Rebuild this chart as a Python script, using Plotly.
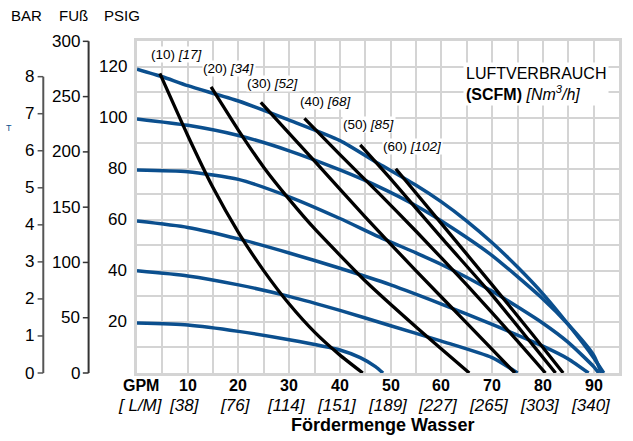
import plotly.graph_objects as go

# ---------------- data ----------------
# Pressure curves (blue): inlet air pressure in PSIG, flow in GPM, head in PSIG
p120_gpm = [0, 5, 10, 20, 30, 40, 47.6, 55, 60, 65, 70, 75, 80, 85, 90, 92]
p120_psi = [119, 116, 112.5, 106.5, 99, 91, 82, 73.5, 67, 59.5, 51, 41.5, 31, 19, 6, 0]
p100_gpm = [0, 10, 20, 30, 40, 47.6, 55, 62, 70, 80, 85, 90, 91.5]
p100_psi = [99.5, 97, 93, 87, 79.5, 73, 65.5, 57, 46, 29, 19, 7, 0]
p80_gpm = [0, 10, 20, 30, 40, 47.6, 55, 60, 70, 80, 85, 90, 91]
p80_psi = [79.5, 78.8, 75.8, 69, 60.5, 53.4, 47, 42.5, 32, 19.5, 12, 2.5, 0]
p60_gpm = [0, 10, 20, 30, 40, 50, 60, 70, 80, 85, 89]
p60_psi = [59.5, 57, 52.5, 47, 41, 34.5, 27, 19, 10.5, 5.5, 0]
p40_gpm = [0, 10, 20, 30, 40, 50, 60, 70, 75]
p40_psi = [40, 38, 34.5, 30, 24.5, 18.5, 12.5, 6, 0]
p20_gpm = [0, 10, 20, 30, 40, 44, 47, 48.5]
p20_psi = [19.6, 18.8, 16.3, 13, 9, 6, 2.5, 0]

# Air consumption curves (black): SCFM
a10_gpm = [4.5, 10, 15, 20, 25, 30, 35, 40, 44.5]
a10_psi = [117.3, 93, 72.5, 55, 40, 27, 16, 7, 0]
a20_gpm = [14.6, 20, 25, 30, 35, 45, 55, 65.5]
a20_psi = [112, 95, 80.5, 68, 56.5, 36, 18, 0]
a30_gpm = [24.4, 35, 45, 55, 65, 74.5]
a30_psi = [106, 83, 61, 40, 19.5, 0]
a40_gpm = [33, 40, 47.6, 55, 65, 75, 80.5]
a40_psi = [99.7, 85.5, 70.5, 55.5, 34.5, 12.5, 0]
a50_gpm = [44, 50, 60, 70, 78, 82.5]
a50_psi = [89.3, 76, 53, 30.5, 11, 0]
a60_gpm = [51, 60, 70, 78, 84]
a60_psi = [80, 58.5, 34.5, 15, 0]

air_labels_scfm = ["(10)", "(20)", "(30)", "(40)", "(50)", "(60)"]
air_labels_nm3h = ["[17]", "[34]", "[52]", "[68]", "[85]", "[102]"]

gpm_ticks = [10, 20, 30, 40, 50, 60, 70, 80, 90]
lpm_ticks = ["[38]", "[76]", "[114]", "[151]", "[189]", "[227]", "[265]", "[303]", "[340]"]
psig_ticks = [20, 40, 60, 80, 100, 120]
bar_ticks = [0, 1, 2, 3, 4, 5, 6, 7, 8]
ft_ticks = [0, 50, 100, 150, 200, 250, 300]

# ---------------- geometry helpers ----------------
W, H = 633, 441
L, R, T, B = 137, 622, 41, 373
YMAX = 130.0
XMAX = 95.0


def xp(px):
    return (px - L) / (R - L)


def yp(py):
    return (B - py) / (B - T)


BLUE = "#0b4f8e"
FONT = "Liberation Sans, Arial, sans-serif"

fig = go.Figure()

blue_sets = [(p120_gpm, p120_psi), (p100_gpm, p100_psi), (p80_gpm, p80_psi),
             (p60_gpm, p60_psi), (p40_gpm, p40_psi), (p20_gpm, p20_psi)]
for gx, gy in blue_sets:
    fig.add_trace(go.Scatter(x=gx, y=gy, mode="lines",
                             line=dict(color=BLUE, width=3.5, shape="spline", smoothing=0.6),
                             hoverinfo="skip", showlegend=False))

black_sets = [(a10_gpm, a10_psi), (a20_gpm, a20_psi), (a30_gpm, a30_psi),
              (a40_gpm, a40_psi), (a50_gpm, a50_psi), (a60_gpm, a60_psi)]
for gx, gy in black_sets:
    fig.add_trace(go.Scatter(x=gx, y=gy, mode="lines",
                             line=dict(color="black", width=3.3, shape="spline", smoothing=0.5),
                             hoverinfo="skip", showlegend=False))

annotations = []
shapes = []

# air consumption labels at the start of each black line
label_px = [(177, 55), (230, 68), (274, 83), (327, 101), (370, 124), (414, 146)]
for (lx, ly), s, n in zip(label_px, air_labels_scfm, air_labels_nm3h):
    annotations.append(dict(x=xp(lx), y=yp(ly), xref="paper", yref="paper",
                            text=f"{s} <i>{n}</i>", showarrow=False,
                            font=dict(family=FONT, size=13.5, color="black"),
                            bgcolor="white", borderpad=0,
                            xanchor="center", yanchor="middle"))

# legend box
annotations.append(dict(x=xp(465), y=yp(84), xref="paper", yref="paper",
                        text="LUFTVERBRAUCH<br><b>(SCFM)</b> <i>[Nm<sup>3</sup>/h]</i>",
                        showarrow=False, align="left",
                        font=dict(family=FONT, size=16, color="black"),
                        bgcolor="white", borderpad=2,
                        xanchor="left", yanchor="middle"))

# bottom tick labels
annotations.append(dict(x=0.8, y=yp(385), xref="x", yref="paper", text="<b>GPM</b>",
                        showarrow=False, font=dict(family=FONT, size=16, color="black"),
                        xanchor="center", yanchor="middle"))
annotations.append(dict(x=0.6, y=yp(405), xref="x", yref="paper", text="<i>[ L/M]</i>",
                        showarrow=False, font=dict(family=FONT, size=17, color="black"),
                        xanchor="center", yanchor="middle"))
for g, lt in zip(gpm_ticks, lpm_ticks):
    annotations.append(dict(x=g, y=yp(385), xref="x", yref="paper", text=f"<b>{g}</b>",
                            showarrow=False, font=dict(family=FONT, size=16, color="black"),
                            xanchor="center", yanchor="middle"))
    annotations.append(dict(x=g - 0.6, y=yp(405), xref="x", yref="paper", text=f"<i>{lt}</i>",
                            showarrow=False, font=dict(family=FONT, size=17, color="black"),
                            xanchor="center", yanchor="middle"))

annotations.append(dict(x=xp(384), y=yp(425), xref="paper", yref="paper",
                        text="<b>Fördermenge Wasser</b>", showarrow=False,
                        font=dict(family=FONT, size=18, color="black"),
                        xanchor="center", yanchor="middle"))

# PSIG labels
for v in psig_ticks:
    annotations.append(dict(x=xp(129), y=v / YMAX, xref="paper", yref="paper", text=str(v),
                            showarrow=False, font=dict(family=FONT, size=17, color="black"),
                            xanchor="right", yanchor="middle"))

# column headers
for txt, cx in [("BAR", 26), ("FUß", 73), ("PSIG", 122)]:
    annotations.append(dict(x=xp(cx), y=yp(16), xref="paper", yref="paper", text=txt,
                            showarrow=False, font=dict(family=FONT, size=15, color="black"),
                            xanchor="center", yanchor="middle"))

annotations.append(dict(x=xp(3), y=yp(128), xref="paper", yref="paper", text="T",
                        showarrow=False, font=dict(family=FONT, size=9, color=BLUE),
                        xanchor="left", yanchor="middle"))

AXC = "#555555"
# BAR axis
bar_x = 42.7
shapes.append(dict(type="line", xref="paper", yref="paper", x0=xp(bar_x), x1=xp(bar_x),
                   y0=0, y1=8 * 14.5038 / YMAX, line=dict(color=AXC, width=2)))
for b in bar_ticks:
    yy = b * 14.5038 / YMAX
    shapes.append(dict(type="line", xref="paper", yref="paper", x0=xp(37), x1=xp(bar_x),
                       y0=yy, y1=yy, line=dict(color=AXC, width=1.5)))
    annotations.append(dict(x=xp(35), y=yy, xref="paper", yref="paper", text=str(b),
                            showarrow=False, font=dict(family=FONT, size=17, color="black"),
                            xanchor="right", yanchor="middle"))

# FUSS axis
ft_x = 88.3
shapes.append(dict(type="line", xref="paper", yref="paper", x0=xp(ft_x), x1=xp(ft_x),
                   y0=0, y1=300 / 2.31 / YMAX, line=dict(color="#333333", width=2)))
for f in ft_ticks:
    yy = f / 2.31 / YMAX
    shapes.append(dict(type="line", xref="paper", yref="paper", x0=xp(82.5), x1=xp(ft_x),
                       y0=yy, y1=yy, line=dict(color="#333333", width=1.5)))
    annotations.append(dict(x=xp(82), y=yy, xref="paper", yref="paper", text=str(f),
                            showarrow=False, font=dict(family=FONT, size=17, color="black"),
                            xanchor="right", yanchor="middle"))

GRID = "#d4d4d4"
fig.update_layout(
    width=W, height=H,
    margin=dict(l=L, r=W - R, t=T, b=H - B, pad=0),
    paper_bgcolor="white", plot_bgcolor="white",
    showlegend=False,
    annotations=annotations, shapes=shapes,
    xaxis=dict(range=[0, XMAX], dtick=5, tick0=0, showgrid=True, gridcolor=GRID, gridwidth=2,
               showticklabels=False, ticks="", zeroline=False,
               showline=True, mirror=True, linecolor=GRID, linewidth=3, fixedrange=True),
    yaxis=dict(range=[0, YMAX], dtick=10, tick0=0, showgrid=True, gridcolor=GRID, gridwidth=2,
               showticklabels=False, ticks="", zeroline=False,
               showline=True, mirror=True, linecolor=GRID, linewidth=3, fixedrange=True),
)

fig.write_html("out.html", config={"displayModeBar": False},
               post_script="document.body.style.margin='0';document.body.style.overflow='hidden';")
